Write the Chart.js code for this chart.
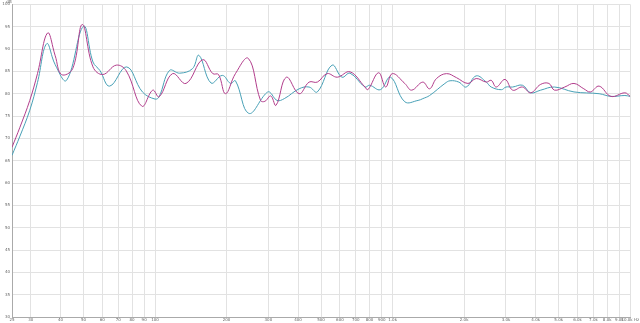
<!DOCTYPE html>
<html>
<head>
<meta charset="utf-8">
<script src="https://cdn.jsdelivr.net/npm/chart.js@4"></script>
<style>
  html, body { margin: 0; padding: 0; background: #fff; }
  #wrap { width: 640px; height: 323px; position: relative; }
</style>
</head>
<body>
<div id="wrap"><canvas id="frChart" width="640" height="323"></canvas></div>
<script>
// Frequency (Hz) / level (dB)
const pinkFreq = [25, 27, 29.7, 32, 35.3, 38, 40.4, 45, 49.4, 54.8, 60.3, 68.7, 75.7, 88, 97.8, 104, 118.5, 135, 158.5, 175, 185, 198, 218, 247, 278, 290, 307, 323, 357, 404, 445, 482, 530, 585, 662, 765, 787, 873, 935, 997, 1125, 1202, 1340, 1431, 1530, 1687, 1856, 2075, 2248, 2480, 2600, 2730, 2973, 3200, 3520, 3810, 4200, 4550, 4800, 5300, 5800, 6380, 6800, 7400, 8300, 9500, 10000];
const pinkDb = [68.0, 72.5, 78.5, 84.5, 93.6, 88.5, 84.3, 85.6, 95.5, 86.0, 84.3, 86.4, 85.1, 77.2, 80.8, 79.3, 84.5, 82.3, 87.6, 84.5, 84.3, 80.0, 84.5, 87.9, 78.5, 78.3, 79.5, 77.4, 83.7, 80.0, 82.6, 82.6, 84.5, 83.7, 84.9, 81.5, 80.9, 84.7, 81.5, 84.5, 82.3, 80.8, 82.6, 81.1, 83.4, 84.5, 83.6, 82.3, 83.4, 82.6, 83.0, 81.5, 83.2, 80.8, 81.5, 80.2, 82.1, 82.3, 80.8, 81.5, 82.3, 81.1, 80.4, 81.7, 79.4, 80.2, 79.4];

const cyanFreq = [25, 27, 29.7, 32, 35, 38, 42.4, 50, 54.8, 58.6, 64.4, 76, 88.5, 100, 104, 115, 127, 143.7, 153, 172, 192, 208, 218, 248, 292, 303, 326, 350, 404, 445, 482, 556, 612, 662, 765, 800, 888, 980, 1125, 1280, 1340, 1431, 1660, 1745, 1900, 2040, 2248, 2480, 2600, 2870, 3000, 3200, 3520, 3810, 4200, 4800, 5800, 7400, 8300, 9500, 10000];
const cyanDb = [66.2, 70.5, 76.3, 82.5, 91.2, 86.5, 83.0, 95.1, 87.1, 85.2, 81.7, 86.0, 80.4, 78.8, 79.3, 85.2, 84.6, 85.6, 88.6, 82.4, 84.1, 82.3, 82.9, 75.6, 80.0, 80.4, 78.5, 78.9, 81.1, 81.5, 80.4, 86.4, 83.7, 84.6, 81.5, 81.9, 80.9, 83.7, 78.2, 78.5, 78.9, 79.6, 82.3, 82.9, 82.6, 81.5, 84.0, 82.6, 81.5, 80.9, 81.5, 81.5, 81.9, 80.2, 80.8, 81.5, 80.4, 80.0, 79.4, 79.6, 79.4];

const xTickValues = [25, 30, 40, 50, 60, 70, 80, 90, 100, 200, 300, 400, 500, 600, 700, 800, 900, 1000, 2000, 3000, 4000, 5000, 6000, 7000, 8000, 9000, 10000];
const xTickLabels = ['25', '30', '40', '50', '60', '70', '80', '90', '100', '200', '300', '400', '500', '600', '700', '800', '900', '1.0k', '2.0k', '3.0k', '4.0k', '5.0k', '6.0k', '7.0k', '8.0k', '9.0k', '10.0k Hz'];

const yMin = 30, yMax = 100, yStep = 5;

function toPoints(fs, vals) {
  return fs.map((f, i) => ({ x: f, y: vals[i] }));
}

// small "dB" unit label above the y axis
const unitLabel = {
  id: 'unitLabel',
  afterDraw(chart) {
    const ctx = chart.ctx;
    ctx.save();
    ctx.font = '4px "DejaVu Sans"';
    ctx.fillStyle = '#666';
    ctx.textAlign = 'center';
    ctx.textBaseline = 'top';
    ctx.fillText('dB', chart.chartArea.left - 3, 0);
    ctx.restore();
  }
};

new Chart(document.getElementById('frChart'), {
  type: 'line',
  data: {
    datasets: [
      {
        label: 'A',
        data: toPoints(pinkFreq, pinkDb),
        borderColor: 'rgb(178, 62, 140)',
        borderWidth: 1,
        pointRadius: 0,
        tension: 0.4,
        fill: false
      },
      {
        label: 'B',
        data: toPoints(cyanFreq, cyanDb),
        borderColor: 'rgb(72, 160, 182)',
        borderWidth: 1,
        pointRadius: 0,
        tension: 0.4,
        fill: false
      }
    ]
  },
  options: {
    responsive: false,
    animation: false,
    layout: { padding: { top: 4, right: 7, left: 0, bottom: 0 } },
    plugins: {
      legend: { display: false },
      tooltip: { enabled: false }
    },
    scales: {
      x: {
        type: 'logarithmic',
        min: 25,
        max: 10000,
        afterBuildTicks: scale => { scale.ticks = xTickValues.map(v => ({ value: v })); },
        afterFit: scale => { scale.height = 6; },
        ticks: {
          autoSkip: false,
          maxRotation: 0,
          padding: 1,
          font: { size: 4, family: 'DejaVu Sans' },
          color: '#666',
          callback: (v) => {
            const i = xTickValues.indexOf(v);
            return i >= 0 ? xTickLabels[i] : '';
          }
        },
        grid: { color: '#e2e2e2', lineWidth: 1, drawTicks: false },
        border: { color: '#aaa' }
      },
      y: {
        min: yMin,
        max: yMax,
        afterFit: scale => { scale.width = 12; },
        ticks: {
          stepSize: yStep,
          padding: 2,
          font: { size: 4, family: 'DejaVu Sans' },
          color: '#666'
        },
        grid: { color: '#e2e2e2', lineWidth: 1, drawTicks: false },
        border: { color: '#aaa' }
      }
    }
  },
  plugins: [unitLabel]
});
</script>
</body>
</html>
